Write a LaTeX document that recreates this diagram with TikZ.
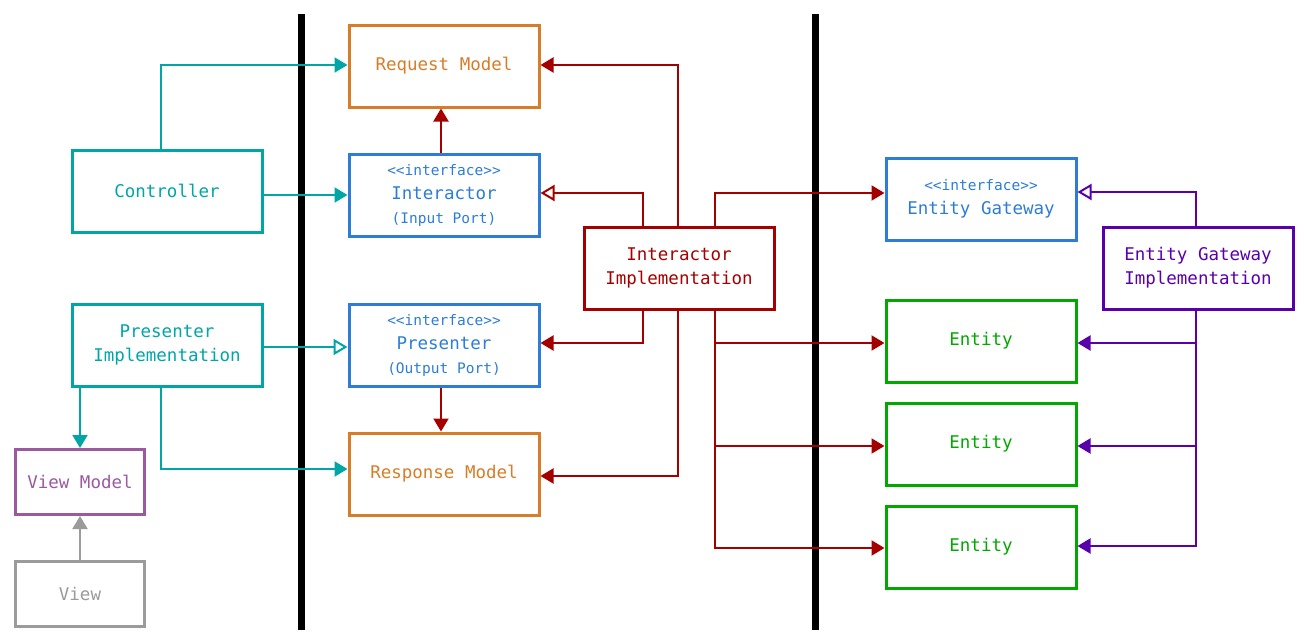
\documentclass[tikz,border=0pt]{standalone}
\usepackage{fontspec}
\newfontfamily\diagmono{DejaVu Sans Mono}
\usetikzlibrary{arrows.meta,calc}
\definecolor{ctrlteal}{RGB}{0,166,166}
\definecolor{ifblue}{RGB}{45,125,215}
\definecolor{modelorange}{RGB}{215,125,40}
\definecolor{implred}{RGB}{165,0,0}
\definecolor{gwpurple}{RGB}{90,0,170}
\definecolor{entgreen}{RGB}{0,168,0}
\definecolor{vmviolet}{RGB}{155,90,160}
\definecolor{viewgray}{RGB}{155,155,155}
\newcommand{\stereo}[1]{{\fontsize{14.5}{18}\selectfont #1}}

\begin{document}
\begin{tikzpicture}[
    x=1pt, y=-1pt,
    font=\diagmono\fontsize{17.5}{24}\selectfont,
    box/.style={rectangle, draw=#1, text=#1, fill=white, line width=3pt, minimum width=190, minimum height=82, align=center, inner sep=2pt},
    smallbox/.style={box=#1, minimum width=129, minimum height=65},
    arrow/.style={-{Triangle[length=13pt,width=15pt]}, line width=2pt},
    openarrow/.style={-{Triangle[open,length=14pt,width=16pt]}, line width=2pt},
    barrier/.style={line width=7pt, black}
]
\useasboundingbox (0,0) rectangle (1304,643);

% boundaries
\draw[barrier] (301,14) -- (301,630);
\draw[barrier] (815,14) -- (815,630);

% nodes
\node[box=modelorange] (reqm) at (444,66) {Request Model};
\node[box=ctrlteal] (ctrl) at (167,191) {Controller};
\node[box=ifblue] (intr) at (444,195) {\stereo{<<interface>>}\\Interactor\\\stereo{(Input Port)}};
\node[box=implred] (impl) at (679,268) {Interactor\\Implementation};
\node[box=ifblue] (egw) at (981,199) {\stereo{<<interface>>}\\Entity Gateway};
\node[box=gwpurple] (egi) at (1198,268) {Entity Gateway\\Implementation};
\node[box=ctrlteal] (pimpl) at (167,345) {Presenter\\Implementation};
\node[box=ifblue] (pres) at (444,345) {\stereo{<<interface>>}\\Presenter\\\stereo{(Output Port)}};
\node[box=modelorange] (resp) at (444,474) {Response Model};
\node[smallbox=vmviolet] (vm) at (80,482) {View Model};
\node[smallbox=viewgray] (view) at (80,594) {View};
\node[box=entgreen] (ent1) at (981,341) {Entity};
\node[box=entgreen] (ent2) at (981,444) {Entity};
\node[box=entgreen] (ent3) at (981,547) {Entity};

% controller / presenter side
\draw[arrow, ctrlteal] ([xshift=-6]ctrl.north) |- ([yshift=1]reqm.west);
\draw[arrow, ctrlteal] (ctrl.east |- intr.west) -- (intr.west);
\draw[openarrow, ctrlteal] ([yshift=-2]pimpl.east) -- ([yshift=-2]pres.west);
\draw[arrow, ctrlteal] (vm.north |- pimpl.south) -- (vm.north);
\draw[arrow, ctrlteal] ([xshift=-6]pimpl.south) |- ([yshift=5]resp.west);
\draw[arrow, viewgray] (view.north) -- (vm.south);

% interactor side
\draw[arrow, implred] ([xshift=-3]intr.north) -- ([xshift=-3]reqm.south);
\draw[arrow, implred] ([xshift=-3]pres.south) -- ([xshift=-3]resp.north);
\draw[openarrow, implred] ([xshift=-36]impl.north) |- ([yshift=2]intr.east);
\draw[arrow, implred] ([xshift=-1]impl.north) |- ([yshift=1]reqm.east);
\draw[arrow, implred] ([xshift=36]impl.north) |- ([yshift=6]egw.west);
\draw[arrow, implred] ([xshift=-36]impl.south) |- ([yshift=2]pres.east);
\draw[arrow, implred] ([xshift=-1]impl.south) |- ([yshift=-2]resp.east);
\draw[arrow, implred] ([xshift=36]impl.south) |- ([yshift=-2]ent1.west);
\draw[arrow, implred] ([xshift=36]impl.south) |- ([yshift=-2]ent2.west);
\draw[arrow, implred] ([xshift=36]impl.south) |- ([yshift=-1]ent3.west);

% gateway side
\draw[openarrow, gwpurple] ([xshift=-2]egi.north) |- ([yshift=7]egw.east);
\draw[arrow, gwpurple] ([xshift=-2]egi.south) |- ([yshift=-2]ent1.east);
\draw[arrow, gwpurple] ([xshift=-2]egi.south) |- ([yshift=-2]ent2.east);
\draw[arrow, gwpurple] ([xshift=-2]egi.south) |- ([yshift=1]ent3.east);

\end{tikzpicture}
\end{document}
